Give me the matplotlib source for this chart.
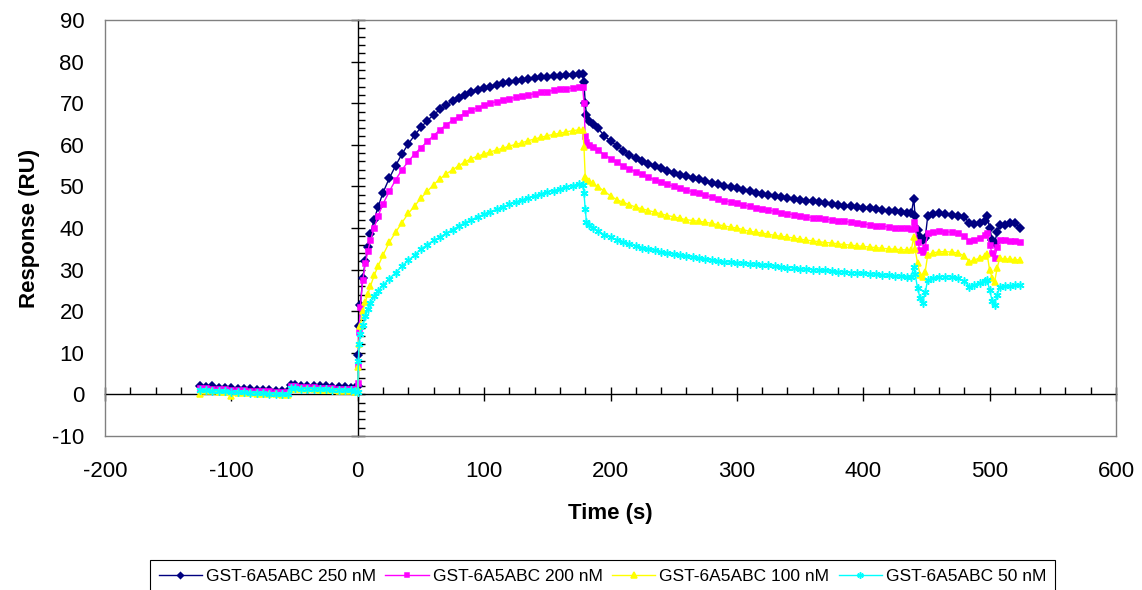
import numpy as np
import matplotlib
matplotlib.use('Agg')
import matplotlib.pyplot as plt
from matplotlib.ticker import MultipleLocator

plt.rcParams['font.family'] = ['Liberation Sans', 'DejaVu Sans']
plt.rcParams['axes.unicode_minus'] = False

# Tempi (s): baseline, associazione, dissociazione, rigenerazione
t_base = [-125, -120, -115, -110, -105, -100, -95, -90, -85, -80, -75, -70, -65, -60, -55,
          -53, -50, -45, -40, -35, -30, -25, -20, -15, -10, -5, -2, 0]
t_assoc = [0.5, 1, 2, 4, 6, 8, 10, 13, 16, 20, 25,
           30, 35, 40, 45, 50, 55, 60, 65, 70, 75, 80, 85, 90, 95, 100, 105, 110, 115, 120,
           125, 130, 135, 140, 145, 150, 155, 160, 165, 170, 175, 178]
t_dissoc = [179, 180, 181, 183, 186,
            190, 195, 200, 205, 210, 215, 220, 225, 230, 235, 240, 245, 250, 255, 260, 265,
            270, 275, 280, 285, 290, 295, 300, 305, 310, 315, 320, 325, 330, 335, 340, 345,
            350, 355, 360, 365, 370, 375, 380, 385, 390, 395, 400, 405, 410, 415, 420, 425,
            430, 435, 438]
t_regen = [440, 441, 443, 445, 447, 449, 451, 455, 460, 465, 470, 475, 480, 484, 488, 492,
           496, 498, 500, 502, 504, 506, 508, 512, 516, 520, 524]
time = t_base + t_assoc + t_dissoc + t_regen

# Risposta (RU) per concentrazione
r250 = [1.9, 1.8, 1.9, 1.6, 1.5, 1.5, 1.4, 1.3, 1.3, 1.1, 1.0, 1.0, 0.9, 0.8, 0.8,
        2.2, 2.3, 2.1, 2.1, 2.0, 1.9, 1.9, 1.8, 1.7, 1.7, 1.6, 1.5, 1.9,
        9.5, 16.5, 21.5, 28, 32, 35.5, 38.5, 42, 45, 48.5, 52,
        55, 57.8, 60.2, 62.3, 64.2, 65.8, 67.2, 68.5, 69.6, 70.5, 71.3, 72.0, 72.6, 73.1, 73.6,
        74.0, 74.4, 74.8, 75.1, 75.4, 75.6, 75.8, 76.0, 76.2, 76.3, 76.5, 76.6, 76.7, 76.8, 76.9,
        77.0,
        75, 70.0, 67.2, 65.8, 65.0,
        64.0, 62.2, 60.9, 59.8, 58.6, 57.5, 56.8, 56.0, 55.4, 54.8, 54.4, 53.8, 53.2, 52.8, 52.4,
        52.0, 51.7, 51.2, 50.9, 50.5, 50.1, 49.8, 49.5, 49.2, 48.8, 48.5, 48.2, 47.9, 47.7, 47.5,
        47.3, 47.0, 46.8, 46.6, 46.4, 46.2, 46.0, 45.8, 45.6, 45.4, 45.3, 45.1, 44.9, 44.8, 44.6,
        44.4, 44.2, 44.0, 43.8, 43.6, 43.5,
        47.0, 43.0, 39.5, 37.8, 37.2, 37.5, 42.8, 43.4, 43.5, 43.3, 43.2, 43.0, 42.6, 41.2, 41.0,
        41.2, 41.8, 43.0, 40.0, 37.2, 36.5, 39.0, 40.8, 40.8, 41.2, 41.2, 40.0]
r200 = [1.5, 1.5, 1.4, 1.3, 1.2, 1.1, 1.1, 1.0, 0.9, 0.8, 0.8, 0.7, 0.6, 0.5, 0.5,
        1.9, 1.9, 1.8, 1.8, 1.7, 1.6, 1.6, 1.5, 1.4, 1.4, 1.3, 1.2, 2.7,
        7, 15, 21, 27.5, 31.5, 34.5, 37, 40, 42.8, 45.8, 48.8,
        51.6, 54.0, 56.0, 57.8, 59.3, 60.8, 62.2, 63.6, 64.8, 65.9, 66.8, 67.6, 68.3, 68.9, 69.5,
        70.0, 70.4, 70.8, 71.1, 71.4, 71.7, 72.0, 72.3, 72.6, 72.8, 73.1, 73.3, 73.5, 73.7, 73.9,
        74.0,
        70, 62.0, 60.6, 60.0, 59.5,
        58.8, 57.6, 56.7, 55.8, 55.0, 54.2, 53.5, 52.9, 52.2, 51.6, 51.0, 50.5, 50.0, 49.5, 49.1,
        48.7, 48.3, 47.9, 47.4, 47.0, 46.6, 46.3, 46.0, 45.6, 45.2, 44.8, 44.5, 44.3, 44.0, 43.7,
        43.4, 43.2, 43.0, 42.7, 42.5, 42.3, 42.1, 42.0, 41.8, 41.6, 41.4, 41.2, 41.0, 40.8, 40.6,
        40.4, 40.3, 40.1, 40.0, 39.9, 39.8,
        41.5, 40.0, 36.7, 34.6, 34.3, 35.5, 38.7, 39.0, 39.2, 39.1, 39.0, 38.7, 38.0, 36.8, 37.2,
        37.6, 38.4, 38.7, 36.0, 33.9, 32.7, 35.5, 37.1, 37.0, 36.9, 36.8, 36.7]
r100 = [0.2, 0.9, 0.8, 0.6, 0.5, -0.4, 0.4, 0.3, 0.3, 0.2, 0.1, 0.1, 0.0, -0.1, -0.1,
        1.3, 1.4, 1.3, 1.2, 1.2, 1.1, 1.0, 1.0, 0.9, 0.8, 0.8, 0.6, 1.0,
        6.7, 12, 16.5, 20, 22.2, 24.2, 26.0, 28.6, 30.8, 33.5, 36.6,
        39.0, 41.3, 43.5, 45.3, 47.2, 48.8, 50.4, 51.8, 53.0, 54.0, 55.0, 55.9, 56.7, 57.3, 57.8,
        58.3, 58.8, 59.2, 59.7, 60.1, 60.5, 61.0, 61.4, 61.8, 62.2, 62.5, 62.8, 63.1, 63.4, 63.6,
        63.6,
        59.5, 52.3, 51.8, 51.3, 50.7,
        49.9, 48.9, 47.7, 46.8, 46.2, 45.6, 45.0, 44.6, 44.2, 43.8, 43.4, 43.0, 42.7, 42.3, 42.0,
        41.8, 41.6, 41.4, 41.1, 40.8, 40.5, 40.2, 40.0, 39.6, 39.2, 39.0, 38.8, 38.5, 38.2, 38.0,
        37.8, 37.6, 37.3, 37.1, 36.9, 36.7, 36.5, 36.4, 36.2, 36.0, 35.9, 35.7, 35.6, 35.4, 35.3,
        35.1, 35.0, 34.9, 34.8, 34.7, 34.7,
        37.9, 35.0, 31.5, 28.7, 28.3, 29.5, 33.5, 34.0, 34.3, 34.3, 34.2, 34.0, 33.3, 31.9, 32.3,
        32.8, 33.3, 33.8, 29.9, 28.0, 27.1, 30.5, 32.7, 32.6, 32.5, 32.4, 32.3]
r50 = [1.0, 1.0, 0.9, 0.8, 0.7, 0.6, 0.6, 0.5, 0.4, 0.3, 0.3, 0.2, 0.1, 0.0, 0.0,
       1.5, 1.5, 1.4, 1.4, 1.3, 1.3, 1.2, 1.1, 1.1, 1.0, 1.0, 0.9, 0.5,
       8, 12, 14.5, 16.8, 18.8, 20.5, 22.0, 23.6, 24.8, 26.2, 27.8,
       29.3, 30.8, 32.2, 33.5, 34.9, 36.0, 37.0, 37.8, 38.7, 39.6, 40.5, 41.3, 42.0, 42.7, 43.3,
       43.9, 44.5, 45.1, 45.7, 46.2, 46.7, 47.2, 47.7, 48.2, 48.6, 49.0, 49.4, 49.8, 50.2, 50.5,
       50.3,
       48.5, 44.5, 41.5, 40.8, 40.0,
       39.2, 38.4, 37.8, 37.2, 36.6, 36.1, 35.7, 35.3, 35.0, 34.6, 34.3, 34.0, 33.7, 33.5, 33.2,
       33.0, 32.8, 32.5, 32.3, 32.1, 31.9, 31.8, 31.7, 31.5, 31.4, 31.3, 31.2, 31.0, 30.8, 30.7,
       30.5, 30.4, 30.2, 30.1, 30.0, 29.9, 29.8, 29.6, 29.5, 29.4, 29.3, 29.2, 29.1, 29.0, 28.9,
       28.8, 28.6, 28.5, 28.4, 28.3, 28.3,
       30.7, 29.0, 25.5, 23.1, 21.9, 24.5, 27.5, 28.0, 28.3, 28.3, 28.2, 27.9, 27.2, 25.9, 26.4,
       26.8, 27.3, 27.5, 25.1, 22.5, 21.5, 24.0, 25.9, 26.0, 26.1, 26.2, 26.3]

labels = ['GST-6A5ABC 250 nM', 'GST-6A5ABC 200 nM', 'GST-6A5ABC 100 nM', 'GST-6A5ABC 50 nM']
colori = ['#000080', '#FF00FF', '#FFFF00', '#00FFFF']
marker = ['D', 's', '^', (6, 2, 0)]
msize = [3.8, 3.6, 4.6, 5.8]

fig = plt.figure(figsize=(11.42, 5.90), dpi=100)
rect = [105/1142, 1 - 436/590, 1011/1142, 416/590]

# assi che si incrociano nello zero (stile Excel)
ax0 = fig.add_axes(rect, zorder=0)
ax0.set_xlim(-200, 600)
ax0.set_ylim(-10, 90)
for s in ['top', 'right']:
    ax0.spines[s].set_visible(False)
ax0.spines['left'].set_position(('data', 0))
ax0.spines['bottom'].set_position(('data', 0))
ax0.spines['left'].set_color('black')
ax0.spines['bottom'].set_color('black')
ax0.spines['left'].set_linewidth(1)
ax0.spines['bottom'].set_linewidth(1)
ax0.xaxis.set_major_locator(MultipleLocator(100))
ax0.xaxis.set_minor_locator(MultipleLocator(20))
ax0.yaxis.set_major_locator(MultipleLocator(10))
ax0.yaxis.set_minor_locator(MultipleLocator(2))
ax0.tick_params(which='major', direction='inout', length=10, width=1, labelbottom=False, labelleft=False)
ax0.tick_params(which='minor', direction='in', length=5, width=1)

# grafico principale
ax = fig.add_axes(rect, zorder=1)
ax.patch.set_facecolor('none')
for i in range(4):
    y = [r250, r200, r100, r50][i]
    ax.plot(time, y, color=colori[i], marker=marker[i], markersize=msize[i],
            markeredgewidth=1.1, linewidth=1.0, label=labels[i])
ax.set_xlim(-200, 600)
ax.set_ylim(-10, 90)
ax.set_xticks(np.arange(-200, 601, 100))
ax.set_yticks(np.arange(-10, 91, 10))
ax.tick_params(axis='y', length=0, labelsize=16, pad=15)
ax.tick_params(axis='x', length=0, labelsize=16, pad=18)
for s in ax.spines.values():
    s.set_color('#808080')
    s.set_linewidth(1)

ax.set_xlabel('Time (s)', fontsize=16, fontweight='bold')
ax.set_ylabel('Response (RU)', fontsize=16, fontweight='bold')
ax.xaxis.set_label_coords(0.5, -0.160)
ax.yaxis.set_label_coords(-0.064, 0.5)

# legenda sotto, tagliata in basso come nell'originale
leg = fig.legend(loc='upper center', bbox_to_anchor=(602.5/1142, 1 - 560/590), ncol=4,
                 fontsize=12.5, frameon=True, fancybox=False, edgecolor='black',
                 handlelength=2.5, handletextpad=0.22, columnspacing=0.55,
                 borderpad=0.5, borderaxespad=0, numpoints=1, framealpha=1,
                 markerscale=0.8)
leg.get_frame().set_linewidth(0.8)

fig.savefig('out.png', dpi=100)
